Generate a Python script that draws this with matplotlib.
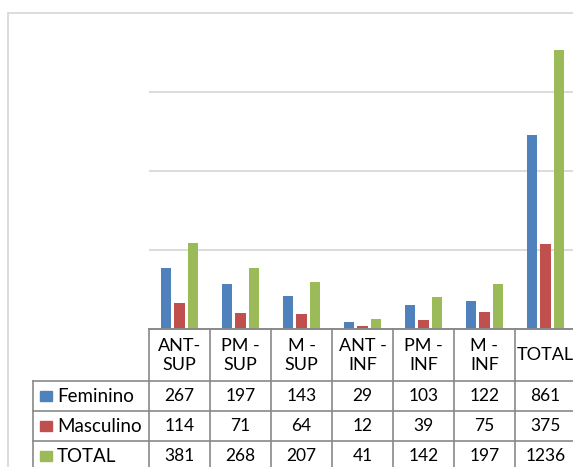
import numpy as np
import matplotlib
matplotlib.use("Agg")
import matplotlib.pyplot as plt
from matplotlib.patches import Rectangle
from matplotlib.lines import Line2D

plt.rcParams['font.family'] = ['Lato', 'DejaVu Sans']

categories = ["ANT-\nSUP", "PM -\nSUP", "M -\nSUP", "ANT -\nINF", "PM -\nINF", "M -\nINF", "TOTAL"]
series_names = ["Feminino", "Masculino", "TOTAL"]
feminino = [267, 197, 143, 29, 103, 122, 861]
masculino = [114, 71, 64, 12, 39, 75, 375]
total = [381, 268, 207, 41, 142, 197, 1236]
colors = ["#4F81BD", "#C0504D", "#9BBB59"]

W, H = 573, 467
COL = 61.0      # column width in px
X0 = 149.0      # left edge of plot area in px

def box(x0, y0, x1, y1):
    # pixel box (top-left origin) -> figure fraction
    return [x0 / W, 1 - y1 / H, (x1 - x0) / W, (y1 - y0) / H]

def u(px):
    # pixel x -> category units
    return -0.5 + (px - X0) / COL

fig = plt.figure(figsize=(W / 100, H / 100), dpi=100)

# outer chart frame
fig.add_artist(Rectangle((7.5 / W, -0.1), 1.2, 1.1 - 13 / H, transform=fig.transFigure,
                         fill=False, edgecolor="#d9d9d9", lw=1.3, clip_on=False))

ax = fig.add_axes(box(X0, 13.5, X0 + 7 * COL, 328.5))
x = np.arange(len(categories))
bw, step = 0.164, 0.226
for i, vals in enumerate([feminino, masculino, total]):
    ax.bar(x + (i - 1) * step, vals, bw, color=colors[i], zorder=3)
ax.set_xlim(-0.5, len(categories) - 0.5)
ax.set_ylim(0, 1400)
ax.set_yticks([350, 700, 1050])
ax.yaxis.grid(True, color="#d9d9d9", lw=1.3, zorder=0)
ax.tick_params(left=False, bottom=False, labelleft=False, labelbottom=False)
for s in ax.spines.values():
    s.set_visible(False)

# data table below the plot
tab = fig.add_axes(box(33, 328.5, X0 + 7 * COL, 467))
tab.set_xlim(u(33), len(categories) - 0.5)
tab.set_ylim(467, 328.5)
tab.axis("off")
lc, lw = "#898989", 1.2
n = len(categories)
tab.add_line(Line2D([-0.5, n - 0.5], [329, 329], color=lc, lw=1.4, clip_on=False))
for yy in [381, 411, 441]:
    tab.add_line(Line2D([u(33), n - 0.5], [yy, yy], color=lc, lw=lw, clip_on=False))
for k in range(n + 1):
    tab.add_line(Line2D([k - 0.5, k - 0.5], [329, 475], color=lc, lw=lw, clip_on=False))
tab.add_line(Line2D([u(33), u(33)], [381, 475], color=lc, lw=lw, clip_on=False))

for k, lab in enumerate(categories):
    tab.text(k, 355.5, lab, ha="center", va="center", fontsize=13, linespacing=1.2, clip_on=False)

rows_y = [396, 426, 456]
for r, (name, vals) in enumerate(zip(series_names, [feminino, masculino, total])):
    yc = rows_y[r]
    tab.add_patch(Rectangle((u(40), yc - 5), 12 / COL, 10, color=colors[r], clip_on=False))
    tab.text(u(57), yc, name, ha="left", va="center", fontsize=13.5, clip_on=False)
    for k, v in enumerate(vals):
        tab.text(k, yc, str(v), ha="center", va="center", fontsize=12.5, clip_on=False)

fig.savefig("out.png", dpi=100)
